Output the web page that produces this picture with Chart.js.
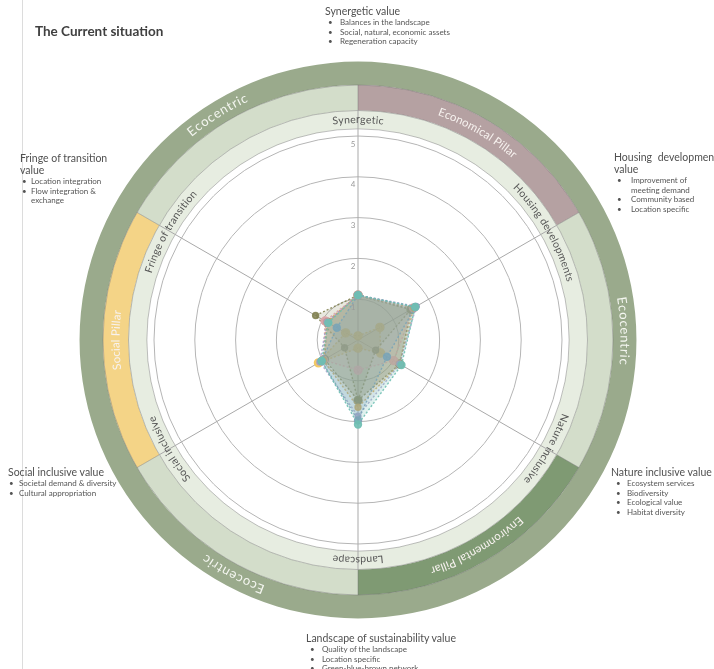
<!DOCTYPE html>
<html>
<head>
<meta charset="utf-8">
<script src="https://cdn.jsdelivr.net/npm/chart.js@4.4.1/dist/chart.umd.min.js"></script>
<style>
  html, body { margin: 0; padding: 0; background: #fff; }
  body { width: 714px; height: 669px; overflow: hidden; position: relative; font-family: Lato, "Open Sans", sans-serif; color: #555; }
  #wrap { position: absolute; left: 0; top: 0; width: 714px; height: 669px; }
  .rule { position: absolute; left: 22px; top: 0; width: 1px; height: 669px; background: #dcdcdc; }
  .title { position: absolute; left: 35px; top: 23px; font-size: 13.5px; font-weight: 700; color: #404040; }
  .note { position: absolute; font-size: 10.5px; line-height: 12px; color: #505050; white-space: nowrap; }
  .note ul { list-style: none; margin: 1px 0 0 0; padding: 0; font-size: 8px; line-height: 9.5px; color: #555; }
  .note li { position: relative; padding-left: var(--txt); }
  .note li::before { content: "\2022"; position: absolute; left: var(--dot); }
</style>
</head>
<body>
<div class="rule"></div>
<div id="wrap"><canvas id="chart"></canvas></div>
<div class="title">The Current situation</div>

<div class="note" style="left:325px;top:5px;--dot:3px;--txt:15px">Synergetic value
  <ul><li>Balances in the landscape</li><li>Social, natural, economic assets</li><li>Regeneration capacity</li></ul></div>

<div class="note" style="left:20px;top:152px;--dot:2px;--txt:11px">Fringe of transition<br>value
  <ul><li>Location integration</li><li>Flow integration &amp;<br>exchange</li></ul></div>

<div class="note" style="left:614px;top:151px;--dot:3px;--txt:17px;word-spacing:3px">Housing development<br>value
  <ul style="word-spacing:0"><li>Improvement of<br>meeting demand</li><li>Community based</li><li>Location specific</li></ul></div>

<div class="note" style="left:8px;top:466px;--dot:1px;--txt:11px">Social inclusive value
  <ul><li>Societal demand &amp; diversity</li><li>Cultural appropriation</li></ul></div>

<div class="note" style="left:611px;top:466px;--dot:5px;--txt:16px">Nature inclusive value
  <ul><li>Ecosystem services</li><li>Biodiversity</li><li>Ecological value</li><li>Habitat diversity</li></ul></div>

<div class="note" style="left:306px;top:632px;--dot:4px;--txt:16px">Landscape of sustainability value
  <ul><li>Quality of the landscape</li><li>Location specific</li><li>Green-blue-brown network</li></ul></div>

<script>
// axes of the radar, clockwise from the top
const axisLabels = ['Synergetic', 'Housing developments', 'Nature inclusive', 'Landscape', 'Social inclusive', 'Fringe of transition'];
const tickValues = [1, 2, 3, 4, 5];

// scores per axis
const oliveValues  = [1.1, 1.5, 1.18, 1.48, 0.95, 0.87];
const starValues   = [1.1, 1.5, 0.5, 1.48, 0.38, 1.2];
const yellowValues = [0.1, 0.62, 0.64, 0.2, 1.12, 0.35];
const orangeValues = [1.1, 1.58, 1.18, 1.65, 0.98, 0.88];
const tealValues   = [1.1, 1.62, 1.23, 2.07, 1.03, 0.84];
const pinkValues   = [1.1, 1.57, 1.01, 0.74, 0.98, 0.93];
const blueValues   = [1.1, 1.62, 0.82, 1.97, 1.03, 0.6];
const purpleValues = [1.1, 1.65, 1.18, 1.87, 1.08, 0.88];

// pillar ring, one segment per axis sector
const pillarNames  = ['Economical Pillar', '', 'Environmental Pillar', '', 'Social Pillar', ''];
const pillarColors = ['#b5a1a2', '#d3ddca', '#7f9a73', '#d3ddca', '#f4d487', '#d3ddca'];
const outerNames   = ['', 'Ecocentric', '', 'Ecocentric', '', 'Ecocentric'];

function rad(deg) { return deg * Math.PI / 180; }

// text bent along a circle, read clockwise with the tops facing outward
function arcText(ctx, text, cx, cy, r, deg, font, color, spacing) {
  ctx.save();
  ctx.font = font;
  ctx.fillStyle = color;
  ctx.textAlign = 'center';
  ctx.textBaseline = 'middle';
  const chars = [...text];
  const widths = chars.map(ch => ctx.measureText(ch).width + spacing);
  const total = widths.reduce((a, b) => a + b, 0);
  let a = rad(deg) - total / (2 * r);
  chars.forEach((ch, i) => {
    const mid = a + widths[i] / (2 * r);
    ctx.save();
    ctx.translate(cx + r * Math.sin(mid), cy - r * Math.cos(mid));
    ctx.rotate(mid);
    ctx.fillText(ch, 0, 0);
    ctx.restore();
    a += widths[i] / r;
  });
  ctx.restore();
}

function sector(ctx, cx, cy, r0, r1, d0, d1, color) {
  ctx.beginPath();
  ctx.arc(cx, cy, r1, rad(d0 - 90), rad(d1 - 90));
  ctx.arc(cx, cy, r0, rad(d1 - 90), rad(d0 - 90), true);
  ctx.closePath();
  ctx.fillStyle = color;
  ctx.fill();
}

const ringPlugin = {
  id: 'rings',
  beforeDraw(chart) {
    const ctx = chart.ctx;
    const s = chart.scales.r;
    const cx = s.xCenter, cy = s.yCenter, R = s.drawingArea;
    const rLabIn = R * 1.035, rLabOut = R * 1.125, rPilOut = R * 1.25, rOut = R * 1.365;
    const step = 360 / axisLabels.length;

    ctx.save();
    // outer band
    sector(ctx, cx, cy, rPilOut, rOut, 0, 360, '#9aaa8c');
    // pillar band
    pillarColors.forEach((c, i) => sector(ctx, cx, cy, rLabOut, rPilOut, i * step, (i + 1) * step, c));
    // label band
    sector(ctx, cx, cy, rLabIn, rLabOut, 0, 360, '#e7ede1');

    ctx.strokeStyle = 'rgba(110,110,110,0.55)';
    ctx.lineWidth = 0.8;
    [rLabIn, rLabOut, rPilOut].forEach(r => {
      ctx.beginPath();
      ctx.arc(cx, cy, r, 0, Math.PI * 2);
      ctx.stroke();
    });
    for (let i = 0; i < axisLabels.length; i++) {
      const a = rad(i * step);
      ctx.beginPath();
      ctx.moveTo(cx + rLabOut * Math.sin(a), cy - rLabOut * Math.cos(a));
      ctx.lineTo(cx + rPilOut * Math.sin(a), cy - rPilOut * Math.cos(a));
      ctx.stroke();
    }
    // spokes carried through the label band
    ctx.strokeStyle = '#a9a9a9';
    ctx.lineWidth = 1;
    for (let i = 0; i < axisLabels.length; i++) {
      const a = rad(i * step);
      ctx.beginPath();
      ctx.moveTo(cx + R * Math.sin(a), cy - R * Math.cos(a));
      ctx.lineTo(cx + rLabOut * Math.sin(a), cy - rLabOut * Math.cos(a));
      ctx.stroke();
    }
    ctx.restore();

    axisLabels.forEach((t, i) => arcText(ctx, t, cx, cy, (rLabIn + rLabOut) / 2, i * step, '10.5px Lato', '#555', 0.3));
    pillarNames.forEach((t, i) => { if (t) arcText(ctx, t, cx, cy, (rLabOut + rPilOut) / 2, i * step + step / 2, '11.5px Lato', '#f7f2ef', 0.2); });
    outerNames.forEach((t, i) => { if (t) arcText(ctx, t, cx, cy, (rPilOut + rOut) / 2, i * step + step / 2 - 2, '13px Lato', '#f4f6f0', 0.9); });
  },
  afterDraw(chart) {
    const ctx = chart.ctx;
    const s = chart.scales.r;
    ctx.save();
    ctx.font = '8px Lato';
    ctx.fillStyle = '#9a9a9a';
    ctx.textAlign = 'center';
    ctx.textBaseline = 'middle';
    tickValues.forEach(v => {
      ctx.fillText(String(v), s.xCenter - 5, s.yCenter - s.getDistanceFromCenterForValue(v) + 8);
    });
    ctx.restore();
  }
};

function series(label, data, color, fill, radius) {
  return {
    label: label,
    data: data,
    borderColor: color,
    backgroundColor: fill,
    pointBackgroundColor: color,
    pointBorderColor: color,
    pointRadius: radius,
    borderWidth: 1.4,
    borderDash: [2, 2],
    fill: true
  };
}

const ctx = document.getElementById('chart').getContext('2d');
new Chart(ctx, {
  type: 'radar',
  data: {
    labels: axisLabels,
    datasets: [
      series('teal', tealValues, 'rgba(111,191,179,0.9)', 'rgba(111,191,179,0.22)', 3.5),
      series('blue', blueValues, 'rgba(127,157,184,0.9)', 'rgba(127,157,184,0.2)', 3.5),
      series('purple', purpleValues, 'rgba(163,155,200,0.8)', 'rgba(163,155,200,0.16)', 3),
      series('orange', orangeValues, 'rgba(217,166,72,0.85)', 'rgba(217,166,72,0.22)', 3),
      series('pink', pinkValues, 'rgba(220,163,168,0.9)', 'rgba(220,163,168,0.22)', 4),
      series('olive', oliveValues, 'rgba(128,128,80,0.9)', 'rgba(128,128,80,0.34)', 4),
      series('star', starValues, 'rgba(128,128,80,0.85)', 'rgba(128,128,80,0.18)', 3),
      series('yellow', yellowValues, 'rgba(242,200,96,0.95)', 'rgba(242,200,96,0.3)', 4)
    ]
  },
  options: {
    responsive: true,
    maintainAspectRatio: false,
    animation: false,
    layout: { padding: { left: 154, right: 152, top: 136, bottom: 125 } },
    elements: { line: { tension: 0 } },
    plugins: { legend: { display: false }, tooltip: { enabled: false } },
    scales: {
      r: {
        min: 0,
        max: 5,
        startAngle: 0,
        ticks: { display: false, stepSize: 1 },
        pointLabels: { display: false },
        grid: { circular: true, color: '#b5b5b5', lineWidth: 1 },
        angleLines: { color: '#a9a9a9', lineWidth: 1 }
      }
    }
  },
  plugins: [ringPlugin]
});
</script>
</body>
</html>
